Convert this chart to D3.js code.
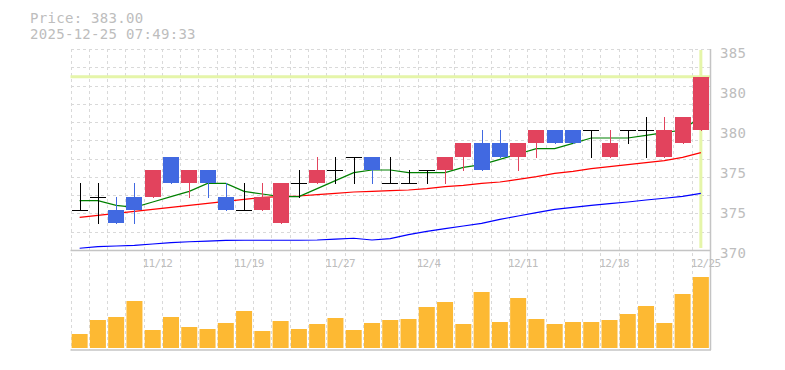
<!DOCTYPE html>
<html>
<head>
<meta charset="utf-8">
<style>
  body { margin: 0; background: #fff; }
  svg text { font-family: "DejaVu Sans Mono", monospace; fill: #bdbdbd; }
</style>
</head>
<body>
<div id="chart"></div>
<script src="https://cdn.jsdelivr.net/npm/d3@7"></script>
<script>
var dates = ['11/6','11/7','11/10','11/11','11/12','11/13','11/14','11/17','11/18','11/19',
             '11/20','11/21','11/25','11/26','11/27','11/28','12/1','12/2','12/3','12/4',
             '12/5','12/8','12/9','12/10','12/11','12/12','12/15','12/16','12/17','12/18',
             '12/19','12/22','12/23','12/24','12/25'];
var dateLabels = ['11/12','11/19','11/27','12/4','12/11','12/18','12/25'];

var open  = [373,374,373,374,374,377,375,376,374,373,373,372,375,375,376,377,377,375,375,376,
             376,377,378,378,377,378,379,379,379,377,379,379,377,378,379];
var high  = [375,375,374,375,376,377,376,376,375,375,375,375,376,377,377,377,377,377,376,376,
             377,378,379,379,378,379,379,379,379,379,379,380,380,380,383];
var low   = [373,372,372,372,374,375,374,374,373,373,373,372,374,375,375,375,375,375,375,375,
             375,376,376,377,376,377,378,378,377,377,378,377,377,378,379];
var close = [373,374,372,373,376,375,376,375,373,373,374,375,375,376,376,377,376,375,375,376,
             377,378,376,377,378,379,378,378,379,378,379,379,379,380,383];

var ma5  = [373.7,373.7,373.35,373.2,373.6,374.0,374.4,375.0,375.0,374.4,374.2,374.0,374.0,374.6,375.2,
            375.8,376.0,376.0,375.8,375.8,375.8,376.2,376.4,376.8,377.2,377.6,377.6,378.0,378.4,378.4,
            378.4,378.6,378.8,379.0,380.0];
var ma25 = [372.45,372.6,372.75,372.9,373.05,373.2,373.35,373.5,373.65,373.8,373.95,374.0,374.05,374.15,374.25,
            374.35,374.4,374.45,374.5,374.6,374.75,374.85,375.0,375.1,375.3,375.5,375.75,375.9,376.1,376.25,
            376.4,376.55,376.7,376.95,377.3];
var ma75 = [370.13,370.25,370.3,370.35,370.45,370.55,370.62,370.67,370.72,370.73,370.73,370.73,370.73,370.75,370.82,
            370.88,370.75,370.85,371.15,371.4,371.6,371.8,372.0,372.3,372.55,372.8,373.05,373.2,373.35,373.48,
            373.6,373.75,373.88,374.02,374.25];

var volume = [1400,2800,3100,4700,1800,3100,2100,1900,2500,3700,1700,2700,1900,2400,3000,1800,2500,2800,
              2900,4100,4600,2400,5600,2600,5000,2900,2400,2600,2600,2800,3400,4200,2500,5400,7100];

var priceTicks = [370,373,376,379,382,385];
var priceTickLabels = ['370','375','375','380','380','385'];
var lastPrice = 383;
var titleLines = ['Price: 383.00', '2025-12-25 07:49:33'];

var width = 785, height = 370
  , left = 70.5, right = 710
  , priceTop = 50, priceBottom = 250
  , volBottom = 348
  , upColor = '#e2435d', downColor = '#4169e1', dojiColor = '#000'
  , gridColor = '#d9d9d9', axisColor = '#c4c4c4';

var svg = d3.select('#chart').append('svg')
    .attr('width', width)
    .attr('height', height);

var x = d3.scaleBand()
    .domain(dates)
    .range([left, right])
    .paddingInner(0.124)
    .paddingOuter(0.062);
var step = x.step();
var slotLeft = function (d) { return x(d) - step * x.paddingInner() / 2; };
var cx = function (i) { return x(dates[i]) + x.bandwidth() / 2; };

var y = d3.scaleLinear().domain([370, 385]).range([priceBottom, priceTop]);
var yv = d3.scaleLinear().domain([0, 9000]).range([volBottom, volBottom - 90]);

// grid
var grid = svg.append('g')
    .attr('stroke', gridColor)
    .attr('stroke-dasharray', '3,3')
    .attr('shape-rendering', 'crispEdges');
grid.selectAll('line.v')
  .data(dates)
  .enter().append('line')
    .attr('x1', function (d) { return Math.round(slotLeft(d)) + 0.5; })
    .attr('x2', function (d) { return Math.round(slotLeft(d)) + 0.5; })
    .attr('y1', priceBottom - 11 * step)
    .attr('y2', 350);
grid.selectAll('line.h')
  .data(d3.range(1, 12))
  .enter().append('line')
    .attr('x1', left)
    .attr('x2', right)
    .attr('y1', function (k) { return Math.round(priceBottom - k * step) + 0.5; })
    .attr('y2', function (k) { return Math.round(priceBottom - k * step) + 0.5; });

// current price marker
svg.append('line')
    .attr('x1', left).attr('x2', right)
    .attr('y1', y(lastPrice)).attr('y2', y(lastPrice))
    .attr('stroke', '#e5f5a9').attr('stroke-width', 3);
svg.append('line')
    .attr('x1', cx(dates.length - 1)).attr('x2', cx(dates.length - 1))
    .attr('y1', priceTop).attr('y2', priceBottom - 2)
    .attr('stroke', '#e5f5a9').attr('stroke-width', 3);

// borders
svg.append('line')
    .attr('x1', left).attr('x2', right + 1)
    .attr('y1', priceBottom + 0.5).attr('y2', priceBottom + 0.5)
    .attr('stroke', axisColor).attr('stroke-width', 1.5);
svg.append('line')
    .attr('x1', left).attr('x2', right + 1)
    .attr('y1', 350).attr('y2', 350)
    .attr('stroke', axisColor).attr('stroke-width', 1.5);
svg.append('line')
    .attr('x1', right + 0.5).attr('x2', right + 0.5)
    .attr('y1', priceTop - 1).attr('y2', 350)
    .attr('stroke', axisColor).attr('stroke-width', 1.5);

// moving averages
var maLine = d3.line()
    .x(function (d, i) { return cx(i); })
    .y(function (d) { return y(d); });
[[ma75, '#0000ff'], [ma25, '#ff0000'], [ma5, '#008000']].forEach(function (m) {
  svg.append('path')
      .attr('d', maLine(m[0]))
      .attr('fill', 'none')
      .attr('stroke', m[1])
      .attr('stroke-width', 1.2);
});

// candles
var candles = svg.append('g').attr('shape-rendering', 'crispEdges')
  .selectAll('g')
  .data(dates)
  .enter().append('g');
var colorOf = function (i) {
  return close[i] > open[i] ? upColor : close[i] < open[i] ? downColor : dojiColor;
};
candles.append('line')
    .attr('x1', function (d, i) { return Math.round(cx(i)) + 0.5; })
    .attr('x2', function (d, i) { return Math.round(cx(i)) + 0.5; })
    .attr('y1', function (d, i) { return Math.round(y(high[i])); })
    .attr('y2', function (d, i) { return Math.round(y(low[i])) + 1; })
    .attr('stroke', function (d, i) { return colorOf(i); })
    .attr('stroke-width', 1);
candles.append('rect')
    .attr('x', function (d) { return x(d); })
    .attr('width', x.bandwidth())
    .attr('y', function (d, i) {
      return open[i] === close[i] ? Math.round(y(open[i])) : y(Math.max(open[i], close[i]));
    })
    .attr('height', function (d, i) { return Math.max(1, Math.abs(y(open[i]) - y(close[i]))); })
    .attr('fill', function (d, i) { return colorOf(i); });

// volume
svg.append('g')
  .selectAll('rect')
  .data(volume)
  .enter().append('rect')
    .attr('x', function (d, i) { return x(dates[i]); })
    .attr('width', x.bandwidth())
    .attr('y', function (d) { return yv(d); })
    .attr('height', function (d) { return volBottom - yv(d); })
    .attr('fill', '#fdb933');

// axes text
svg.append('g')
  .selectAll('text')
  .data(priceTicks)
  .enter().append('text')
    .attr('x', 720)
    .attr('y', function (d) { return y(d) + 8; })
    .attr('font-size', 14)
    .attr('letter-spacing', 0.3)
    .text(function (d, i) { return priceTickLabels[i]; });

svg.append('g')
  .selectAll('text')
  .data(dateLabels)
  .enter().append('text')
    .attr('x', function (d) { return slotLeft(d) - 1; })
    .attr('y', 267)
    .attr('font-size', 11)
    .attr('letter-spacing', -0.7)
    .text(function (d) { return d; });

svg.append('g')
  .selectAll('text')
  .data(titleLines)
  .enter().append('text')
    .attr('x', 30)
    .attr('y', function (d, i) { return 23 + i * 15.5; })
    .attr('font-size', 14)
    .attr('letter-spacing', 0.3)
    .text(function (d) { return d; });
</script>
</body>
</html>
